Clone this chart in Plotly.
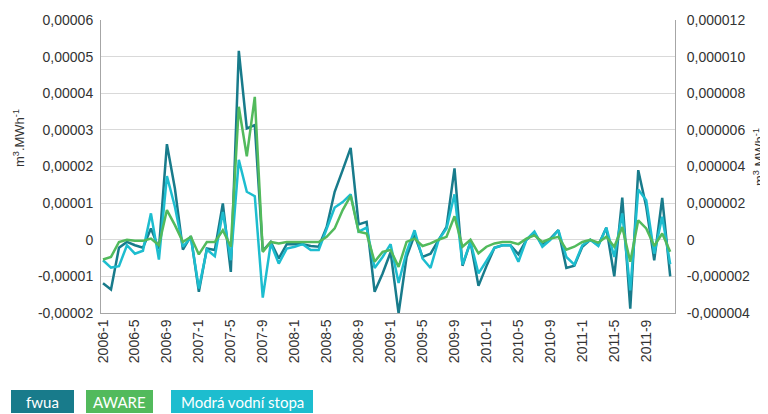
import plotly.graph_objects as go

months = [f"{y}-{m}" for y in range(2006, 2012) for m in range(1, 13)]
tick_months = months[::4]

# fwua, left axis (x 1e-5 m3/MWh)
fwua = [-1.19, -1.36, -0.22, -0.06, -0.15, -0.22, 0.31, -0.25, 2.61, 1.40,
        -0.27, 0.10, -1.42, -0.24, -0.28, 0.99, -0.88, 5.16, 3.04, 3.13,
        -0.30, -0.06, -0.51, -0.12, -0.12, -0.12, -0.17, -0.19, 0.35, 1.31,
        1.90, 2.51, 0.42, 0.49, -1.42, -0.92, -0.34, -2.01, -0.47, 0.13,
        -0.47, -0.38, -0.01, 0.35, 1.95, -0.71, -0.06, -1.26, -0.72, -0.22,
        -0.15, -0.15, -0.40, 0.00, 0.19, -0.15, 0.03, 0.26, -0.77, -0.71,
        -0.19, 0.00, -0.15, 0.33, -1.00, 1.15, -1.88, 1.90, 0.90, -0.56,
        1.14, -1.00]

# Modrá vodní stopa, left axis (x 1e-5 m3/MWh)
modra = [-0.56, -0.76, -0.72, -0.15, -0.38, -0.30, 0.72, -0.54, 1.74, 0.90,
         -0.19, 0.06, -1.33, -0.27, -0.45, 0.76, -0.56, 2.18, 1.31, 1.19,
         -1.58, -0.10, -0.65, -0.24, -0.19, -0.12, -0.28, -0.28, 0.30, 0.88,
         1.03, 1.24, 0.22, 0.33, -0.77, -0.47, -0.12, -1.18, -0.33, 0.26,
         -0.51, -0.77, -0.01, 0.31, 1.24, -0.68, -0.06, -0.92, -0.58, -0.22,
         -0.15, -0.15, -0.60, 0.00, 0.22, -0.19, 0.00, 0.26, -0.47, -0.68,
         -0.15, 0.00, -0.17, 0.33, -0.47, 0.72, -1.38, 1.37, 1.08, -0.38,
         0.63, -0.67]

# AWARE, right axis (x 1e-6 m3/MWh)
aware = [-1.08, -0.94, -0.12, 0.00, -0.06, -0.06, 0.06, -0.30, 1.62, 0.80,
         -0.12, 0.16, -0.80, -0.12, -0.12, 0.52, -0.38, 7.26, 4.56, 7.80,
         -0.66, -0.12, -0.20, -0.12, -0.12, -0.12, -0.12, -0.12, 0.16, 0.62,
         1.62, 2.40, 0.44, 0.34, -1.20, -0.66, -0.56, -1.48, -0.12, 0.06,
         -0.34, -0.20, 0.00, 0.16, 1.28, -0.38, 0.00, -0.74, -0.38, -0.20,
         -0.12, -0.12, -0.24, 0.06, 0.24, -0.12, 0.06, 0.16, -0.54, -0.38,
         -0.12, 0.00, -0.16, 0.16, -0.38, 0.70, -1.20, 1.06, 0.62, -0.34,
         0.34, -0.66]

left_ticks = [-2e-5, -1e-5, 0, 1e-5, 2e-5, 3e-5, 4e-5, 5e-5, 6e-5]
left_text = ["-0,00002", "-0,00001", "0", "0,00001", "0,00002", "0,00003",
             "0,00004", "0,00005", "0,00006"]
right_ticks = [-4e-6, -2e-6, 0, 2e-6, 4e-6, 6e-6, 8e-6, 10e-6, 12e-6]
right_text = ["-0,000004", "-0,000002", "0", "0,000002", "0,000004",
              "0,000006", "0,000008", "0,000010", "0,000012"]

legend_names = ["fwua", "AWARE", "Modrá vodní stopa"]
c_fwua = "#187b8b"
c_aware = "#52ba5c"
c_modra = "#1dbdcf"

fig = go.Figure()
fig.add_trace(go.Scatter(x=months, y=[v * 1e-5 for v in fwua], mode="lines",
                         name=legend_names[0], line=dict(color=c_fwua, width=2.5)))
fig.add_trace(go.Scatter(x=months, y=[v * 1e-5 for v in modra], mode="lines",
                         name=legend_names[2], line=dict(color=c_modra, width=2.5)))
fig.add_trace(go.Scatter(x=months, y=[v * 1e-6 for v in aware], mode="lines",
                         name=legend_names[1], yaxis="y2",
                         line=dict(color=c_aware, width=2.5)))

# page body has an 8px margin: figure spans screen px 8..768 x 8..414
OFF = 8
W, H = 768 - OFF, 414 - OFF
L, R, T, B = 101, 675, 20, 313  # plot area in screen px
pw, ph = R - L, B - T

def px(x):
    return (x - L) / pw

def py(y):
    return (B - y) / ph

tickfont = dict(family="Liberation Sans, Arial", size=14, color="#333333")

fig.update_layout(
    width=W, height=H,
    margin=dict(l=L - OFF, r=768 - R, t=T - OFF, b=414 - B, autoexpand=False),
    paper_bgcolor="white", plot_bgcolor="white",
    showlegend=False,
    xaxis=dict(type="category", range=[-0.25, 71.6], tickmode="array",
               tickvals=tick_months, ticktext=tick_months, tickangle=-90,
               tickfont=tickfont, showgrid=False, showline=True,
               linecolor="#a6a6a6", linewidth=1, ticks="", zeroline=False),
    yaxis=dict(range=[-2e-5, 6e-5], tickmode="array", tickvals=left_ticks,
               ticktext=left_text, tickfont=tickfont, showgrid=True,
               gridcolor="#d9d9d9", gridwidth=1, zeroline=False,
               showline=True, linecolor="#a6a6a6", linewidth=1,
               ticks="", ticklabelstandoff=4),
    yaxis2=dict(range=[-4e-6, 12e-6], overlaying="y", side="right",
                tickmode="array", tickvals=right_ticks, ticktext=right_text,
                tickfont=tickfont, showgrid=False, zeroline=False,
                showline=True, linecolor="#a6a6a6", linewidth=1,
                ticks="", ticklabelstandoff=8),
)

title_font = dict(family="Liberation Sans, Arial", size=13, color="#333333")
fig.add_annotation(x=px(19), y=py(138), xref="paper", yref="paper",
                   xanchor="center", yanchor="middle",
                   text="m<sup>3</sup>.MWh<sup>-1</sup>", textangle=-90,
                   showarrow=False, font=title_font)
fig.add_annotation(x=px(759), y=py(157), xref="paper", yref="paper",
                   xanchor="center", yanchor="middle",
                   text="m<sup>3</sup>.MWh<sup>-1</sup>", textangle=-90,
                   showarrow=False, font=title_font)

boxes = [(11, 74, c_fwua, legend_names[0]),
         (86, 153, c_aware, legend_names[1]),
         (171, 313, c_modra, legend_names[2])]
for x0, x1, col, name in boxes:
    fig.add_shape(type="rect", xref="paper", yref="paper",
                  x0=px(x0), x1=px(x1), y0=py(413), y1=py(390),
                  fillcolor=col, line=dict(width=0), layer="below")
    fig.add_annotation(x=px((x0 + x1) / 2), y=py(401.5), xref="paper",
                       yref="paper", xanchor="center", yanchor="middle",
                       text=name, showarrow=False,
                       font=dict(family="Lato", size=15, color="white"))

fig.write_html("out.html")
